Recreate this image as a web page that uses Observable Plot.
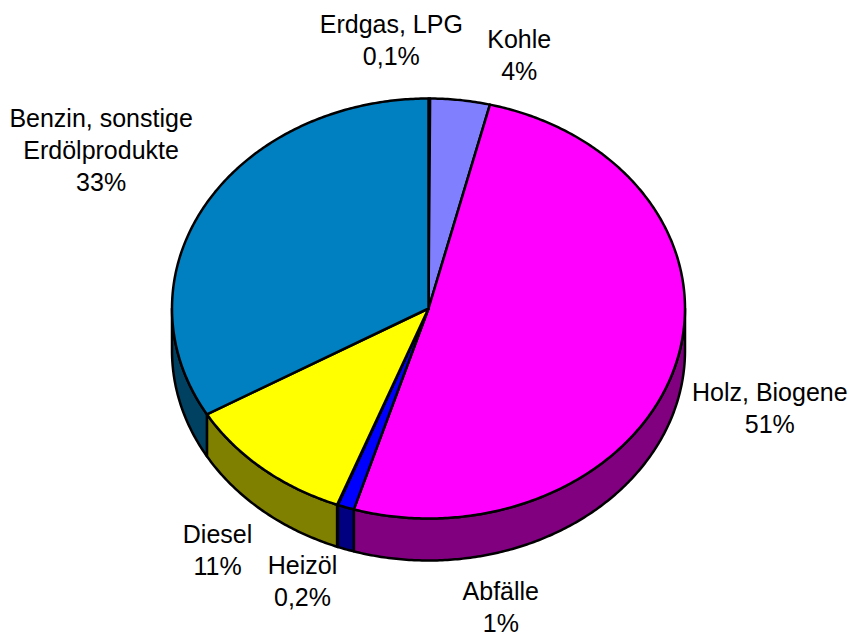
<!DOCTYPE html>
<html><head><meta charset="utf-8">
<style>html,body{margin:0;padding:0;background:#fff}svg{display:block}</style>
<script src="https://cdn.jsdelivr.net/npm/d3@7"></script>
<script src="https://cdn.jsdelivr.net/npm/@observablehq/plot@0.6"></script>
</head><body><script>
const categories = ["Erdgas, LPG","Kohle","Holz, Biogene","Abfälle","Heizöl","Diesel","Benzin, sonstige\nErdölprodukte"];
const shares = [0.1,3.75,50.85,1.05,0.05,10.8,33.4];
const percentLabels = ["0,1%","4%","51%","1%","0,2%","11%","33%"];
const topColors = ["#00C0C0","#8080FF","#FF00FF","#0000FF","#000080","#FFFF00","#0080C0"];
const sideColors = ["#006060","#404080","#800080","#000080","#000040","#808000","#004060"];
const labelOffsets = [[-38,-60],[59,-46],[94,43],[155,98],[-35,75],[-45,80],[-105,-55]];

const W = 848, H = 632, cx = 428, cy = 308, rx = 256.5, ry = 210, depth = 42;
const total = d3.sum(shares);
const TAU = Math.PI * 2;
const rim = (t, dz = 0) => ({x: cx + rx * Math.sin(t), y: cy - ry * Math.cos(t) + dz});
const arc = (a, b, dz = 0) => {
  const n = Math.max(2, Math.ceil((b - a) / 0.01));
  return d3.range(n + 1).map(i => rim(a + (b - a) * i / n, dz));
};
let acc = 0;
const slices = shares.map((v, i) => {
  const a = acc / total * TAU; acc += v; const b = acc / total * TAU;
  return {i, a, b, mid: (a + b) / 2};
});
const line = (pts, fill) => Plot.line(pts, {x: "x", y: "y", fill, stroke: "#000", strokeWidth: 2.5, curve: "linear-closed"});
const marks = [];
for (const s of slices) {
  const a = Math.max(s.a, Math.PI / 2), b = Math.min(s.b, Math.PI * 1.5);
  if (b > a) marks.push(line([...arc(a, b), ...arc(a, b, depth).reverse()], sideColors[s.i]));
}
for (const s of slices) {
  marks.push(line([{x: cx, y: cy}, ...arc(s.a, s.b)], topColors[s.i]));
}
slices.forEach(s => {
  const [dx, dy] = labelOffsets[s.i];
  marks.push(Plot.text([rim(s.mid)], {
    x: "x", y: "y", dx, dy,
    text: () => categories[s.i] + "\n" + percentLabels[s.i],
    fontFamily: "Liberation Sans, Arial, sans-serif", fontSize: 25, lineHeight: 32 / 25,
    fill: "#000", textAnchor: "middle", lineAnchor: "middle"
  }));
});
document.body.appendChild(Plot.plot({
  width: W, height: H, margin: 0,
  x: {domain: [0, W], range: [0, W], axis: null},
  y: {domain: [0, H], range: [0, H], axis: null},
  marks
}));
</script></body></html>
